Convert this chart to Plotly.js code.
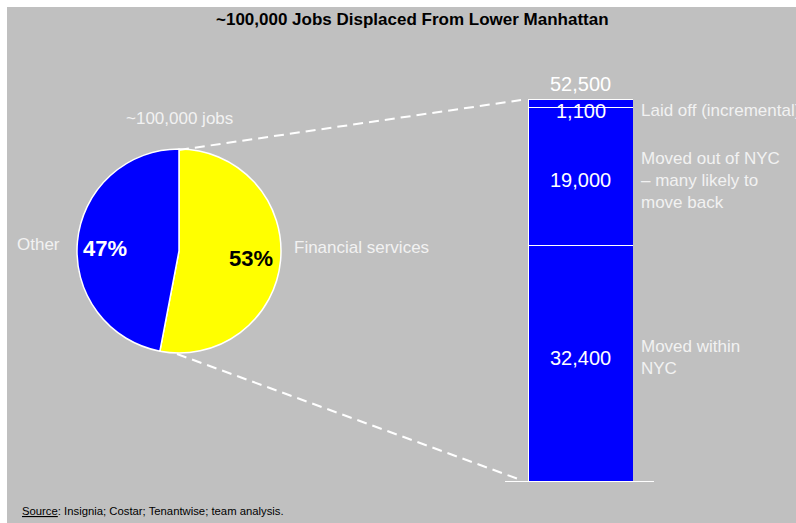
<!DOCTYPE html>
<html>
<head>
<meta charset="utf-8">
<script src="https://cdn.plot.ly/plotly-3.0.1.min.js"></script>
<style>html,body{margin:0;padding:0;background:#fff;}#chart{width:796px;height:523px;}</style>
</head>
<body>
<div id="chart"></div>
<script>
// ---- data ----
const chartTitle = '~100,000 Jobs Displaced From Lower Manhattan';
const pieLabels = ['Financial services', 'Other'];
const pieValues = [53, 47];
const pieColors = ['#ffff00', '#0000ff'];
const pieTextColors = ['#000000', '#ffffff'];
const pieCaption = '~100,000 jobs';
const barCategories = ['Moved within NYC', 'Moved out of NYC – many likely to move back', 'Laid off (incremental)'];
const barValues = [32400, 19000, 1100];
const barLabelLines = [['Moved within', 'NYC'], ['Moved out of NYC', '– many likely to', 'move back'], ['Laid off (incremental)']];
const sourceLead = 'Source';
const sourceText = ': Insignia; Costar; Tenantwise; team analysis.';

// ---- layout helpers ----
const W = 796, H = 523;
const px = x => x / W;
const py = y => 1 - y / H;
const FONT = 'Liberation Sans, Arial, sans-serif';
const fmt = v => v.toLocaleString('en-US');

const pieBox = {x0: 77, x1: 281, y0: 149, y1: 353};
const pieCx = (pieBox.x0 + pieBox.x1) / 2;
const barBox = {x0: 528, x1: 633, top: 99, bottom: 482};
const total = barValues.reduce((a, b) => a + b, 0);
const pieSum = pieValues.reduce((a, b) => a + b, 0);
const labelShift = [6, -4, 0];

const traces = [{
  type: 'pie',
  labels: pieLabels,
  values: pieValues,
  marker: {colors: pieColors, line: {color: '#ffffff', width: 1.5}},
  sort: false,
  direction: 'clockwise',
  rotation: 0,
  textinfo: 'none',
  hoverinfo: 'none',
  showlegend: false,
  domain: {x: [px(pieBox.x0), px(pieBox.x1)], y: [py(pieBox.y1), py(pieBox.y0)]}
}];

barValues.forEach((v, i) => {
  traces.push({
    type: 'bar',
    name: barCategories[i],
    x: [0],
    y: [v],
    width: 1,
    marker: {color: '#0000ff', line: {color: '#ffffff', width: 1}},
    hoverinfo: 'none',
    showlegend: false,
    xaxis: 'x', yaxis: 'y'
  });
});

const annotations = [];
annotations.push({xref: 'paper', yref: 'paper', x: px(412), y: py(20), text: '<b>' + chartTitle + '</b>',
  showarrow: false, xanchor: 'center', yanchor: 'middle', font: {family: FONT, size: 17, color: '#000'}});
annotations.push({xref: 'paper', yref: 'paper', x: px(pieCx), y: py(119), text: pieCaption,
  showarrow: false, xanchor: 'center', yanchor: 'middle', font: {family: FONT, size: 17, color: '#f2f2f2'}});
// pie outside labels
annotations.push({xref: 'paper', yref: 'paper', x: px(292), y: py(247), text: pieLabels[0],
  showarrow: false, xanchor: 'left', yanchor: 'middle', font: {family: FONT, size: 17, color: '#f2f2f2'}});
annotations.push({xref: 'paper', yref: 'paper', x: px(62), y: py(244), text: pieLabels[1],
  showarrow: false, xanchor: 'right', yanchor: 'middle', font: {family: FONT, size: 17, color: '#f2f2f2'}});
// pie percents
const pctPos = [[251, 258], [105, 248]];
pieValues.forEach((v, i) => {
  annotations.push({xref: 'paper', yref: 'paper', x: px(pctPos[i][0]), y: py(pctPos[i][1]),
    text: '<b>' + Math.round(v / pieSum * 100) + '%</b>', showarrow: false, xanchor: 'center', yanchor: 'middle',
    font: {family: FONT, size: 22, color: pieTextColors[i]}});
});
// bar values and side labels
let cum = 0;
barValues.forEach((v, i) => {
  const mid = cum + v / 2;
  const isTop = i === barValues.length - 1;
  const yPos = isTop ? total : mid;
  const yAnc = isTop ? 'top' : 'middle';
  annotations.push({xref: 'x', yref: 'y', x: 0, y: yPos, text: fmt(v), showarrow: false,
    xanchor: 'center', yanchor: yAnc, yshift: isTop ? 1 : labelShift[i], font: {family: FONT, size: 20, color: '#ffffff'}});
  annotations.push({xref: 'paper', yref: 'y', x: px(639), y: yPos, text: barLabelLines[i].join('<br>'),
    showarrow: false, xanchor: 'left', yanchor: yAnc, align: 'left', yshift: isTop ? 0 : labelShift[i],
    font: {family: FONT, size: 17, color: '#f2f2f2'}});
  cum += v;
});
annotations.push({xref: 'x', yref: 'y', x: 0, y: total, text: fmt(total), showarrow: false,
  xanchor: 'center', yanchor: 'bottom', yshift: 2, font: {family: FONT, size: 20, color: '#ffffff'}});
// source
annotations.push({xref: 'paper', yref: 'paper', x: px(20), y: py(511),
  text: '<span style="text-decoration:underline">' + sourceLead + '</span>' + sourceText,
  showarrow: false, xanchor: 'left', yanchor: 'middle', font: {family: FONT, size: 11.3, color: '#000'}});

const shapes = [
  {type: 'rect', xref: 'paper', yref: 'paper', x0: px(7), x1: 1, y0: 0, y1: py(7),
    fillcolor: '#c0c0c0', line: {width: 0}, layer: 'below'},
  {type: 'line', xref: 'paper', yref: 'paper', x0: px(pieCx), y0: py(pieBox.y0 + 1), x1: px(barBox.x0 - 7), y1: py(barBox.top + 1),
    line: {color: '#ffffff', width: 2, dash: '10px,6px'}},
  {type: 'line', xref: 'paper', yref: 'paper', x0: px(pieCx - 2), y0: py(pieBox.y1 + 1), x1: px(barBox.x0 - 7), y1: py(barBox.bottom - 2),
    line: {color: '#ffffff', width: 2, dash: '10px,6px'}},
  {type: 'line', xref: 'paper', yref: 'y', x0: px(505), x1: px(654), y0: 0, y1: 0,
    line: {color: '#ffffff', width: 2}}
];

const layout = {
  width: W, height: H,
  margin: {l: 0, r: 0, t: 0, b: 0},
  paper_bgcolor: '#ffffff',
  plot_bgcolor: 'rgba(0,0,0,0)',
  barmode: 'stack',
  bargap: 0,
  showlegend: false,
  xaxis: {visible: false, range: [-0.5, 0.5], domain: [px(barBox.x0), px(barBox.x1)], fixedrange: true},
  yaxis: {visible: false, range: [0, total], domain: [py(barBox.bottom), py(barBox.top)], fixedrange: true},
  annotations: annotations,
  shapes: shapes
};

Plotly.newPlot('chart', traces, layout, {staticPlot: true, displayModeBar: false});
</script>
</body>
</html>
